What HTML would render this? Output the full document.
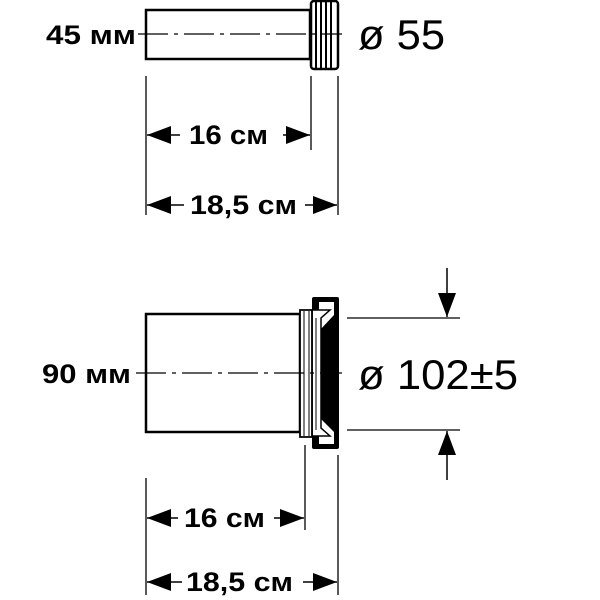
<!DOCTYPE html>
<html><head><style>body{margin:0;background:#fff}svg{display:block}</style></head><body>
<svg width="600" height="600" viewBox="0 0 600 600" xmlns="http://www.w3.org/2000/svg">
<defs>
<marker id="a" viewBox="0 0 10 10" refX="10" refY="5" markerWidth="24" markerHeight="18" markerUnits="userSpaceOnUse" orient="auto" preserveAspectRatio="none"><path d="M0,0L10,5L0,10z" fill="#000"/></marker>
</defs>
<g fill="none" stroke="#000" stroke-width="2.5">
<rect x="146" y="10" width="164" height="49"/>
<rect x="311" y="1" width="27" height="68" rx="3"/>
</g>
<g stroke="#000" stroke-width="2">
<line x1="316" y1="2" x2="316" y2="68"/><line x1="321" y1="2" x2="321" y2="68"/><line x1="326" y1="2" x2="326" y2="68"/><line x1="331" y1="2" x2="331" y2="68"/>
</g>
<line x1="138" y1="34" x2="342" y2="34" stroke="#000" stroke-width="1.3" stroke-dasharray="30,6,4,6"/>
<g stroke="#000" stroke-width="1.3">
<line x1="146" y1="76" x2="146" y2="215"/><line x1="311" y1="76" x2="311" y2="150"/><line x1="338" y1="76" x2="338" y2="215"/>
<line x1="146" y1="478" x2="146" y2="595"/><line x1="305" y1="445" x2="305" y2="530"/><line x1="338" y1="455" x2="338" y2="595"/>
<line x1="347" y1="318" x2="460" y2="318"/><line x1="347" y1="430" x2="460" y2="430"/>
</g>
<g stroke="#000" stroke-width="1.5" marker-end="url(#a)">
<line x1="180" y1="135" x2="147" y2="135"/><line x1="283" y1="135" x2="310" y2="135"/>
<line x1="184" y1="205" x2="147" y2="205"/><line x1="305" y1="205" x2="337" y2="205"/>
<line x1="178" y1="518" x2="147" y2="518"/><line x1="274" y1="518" x2="304" y2="518"/>
<line x1="182" y1="582" x2="147" y2="582"/><line x1="303" y1="582" x2="337" y2="582"/>
<line x1="447" y1="268" x2="447" y2="317"/><line x1="447" y1="480" x2="447" y2="431"/>
</g>
<rect x="146" y="314" width="154" height="118" fill="none" stroke="#000" stroke-width="2.5"/>
<rect x="312" y="297" width="27" height="152" rx="2" fill="#000"/>
<path d="M319,302 L334,302 L334,315 L320,330 L320,418 L334,432 L334,444 L319,444 Z" fill="#fff"/>
<path d="M312,310 L330,310 L321,318 L321,428 L330,436 L312,436 Z" fill="#fff" stroke="#000" stroke-width="1.5"/>
<path d="M300,310 L312,310 L312,437 L300,437 Z" fill="#fff" stroke="#000" stroke-width="1.8"/>
<g stroke="#000" stroke-width="1"><line x1="304" y1="311" x2="304" y2="436"/><line x1="309" y1="311" x2="309" y2="436"/><line x1="316" y1="318" x2="316" y2="430"/><line x1="324" y1="330" x2="324" y2="418"/><line x1="328" y1="330" x2="328" y2="418"/></g>
<line x1="136" y1="373" x2="342" y2="373" stroke="#000" stroke-width="1.3" stroke-dasharray="30,6,4,6"/>
<g font-family="Liberation Sans, sans-serif" fill="#000">
<g font-weight="bold" font-size="27">
<text x="46" y="44" textLength="90" lengthAdjust="spacingAndGlyphs">45 мм</text>
<text x="189" y="144" textLength="79" lengthAdjust="spacingAndGlyphs">16 см</text>
<text x="190" y="214" textLength="107" lengthAdjust="spacingAndGlyphs">18,5 см</text>
<text x="42" y="383" textLength="89" lengthAdjust="spacingAndGlyphs">90 мм</text>
<text x="184" y="527" textLength="81" lengthAdjust="spacingAndGlyphs">16 см</text>
<text x="186" y="591" textLength="107" lengthAdjust="spacingAndGlyphs">18,5 см</text>
</g>
<text x="358" y="49" font-size="42" textLength="87" lengthAdjust="spacingAndGlyphs">ø 55</text>
<text x="358" y="389" font-size="42" textLength="160" lengthAdjust="spacingAndGlyphs">ø 102±5</text>
</g>
</svg>
</body></html>
